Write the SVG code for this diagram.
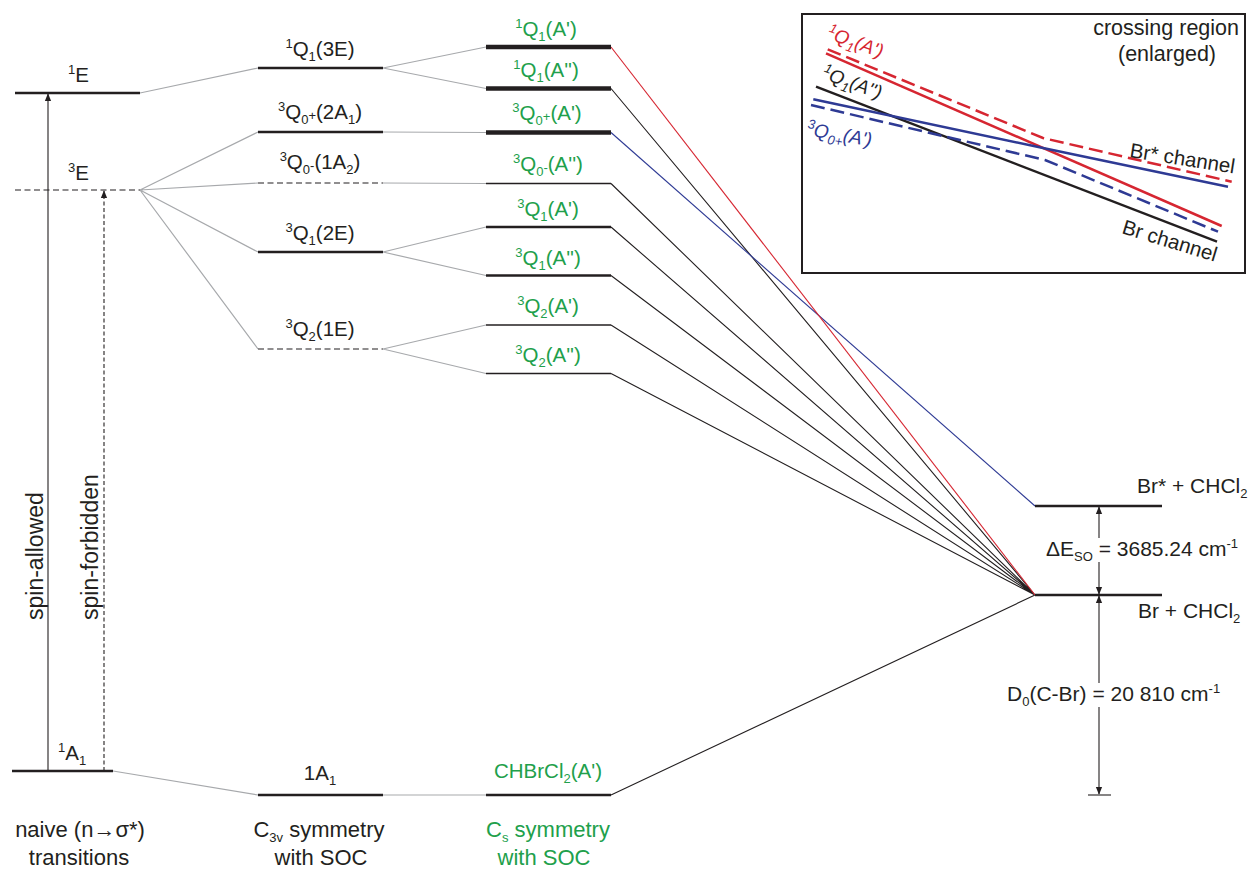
<svg xmlns="http://www.w3.org/2000/svg" width="1255" height="873" viewBox="0 0 1255 873">
<defs>
<style>
text{font-family:"Liberation Sans",Arial,sans-serif;font-size:20.5px;fill:#231f20}
.g{fill:#21a04b}
.s{font-size:13px}
.b22{font-size:22px}
.b21{font-size:21px}
.sp{font-size:23px}
.in{font-size:21.5px}
.it{font-style:italic;font-size:19px}
.lv{stroke:#231f20;stroke-width:2.5;fill:none}
.lvt{stroke:#231f20;stroke-width:4.5;fill:none}
.lvn{stroke:#231f20;stroke-width:1.3;fill:none}
.dash{stroke:#231f20;stroke-width:1.2;stroke-dasharray:6 3.5;fill:none}
.gr{stroke:#a7a9ac;stroke-width:1.2;fill:none}
.bk{stroke:#231f20;stroke-width:1.1;fill:none}
.rd{stroke:#d62631;stroke-width:1.1;fill:none}
.bl{stroke:#2e3a94;stroke-width:1.1;fill:none}
.ar{stroke:#231f20;stroke-width:1.1;fill:none}
</style>
<marker id="ah" viewBox="0 0 10 10" refX="9" refY="5" markerWidth="8" markerHeight="8" markerUnits="userSpaceOnUse" orient="auto">
<path d="M0,1 L10,5 L0,9 Z" fill="#231f20"/>
</marker>
</defs>
<rect width="1255" height="873" fill="#fff"/>

<g id="connectors">
<path class="gr" d="M140,93 L258,68"/>
<path class="gr" d="M140,190 L258,132 M140,190 L258,183 M140,190 L258,252 M140,190 L258,349"/>
<path class="gr" d="M113,771 L258,795"/>
<path class="gr" d="M383,68 L486,47 M383,68 L486,88.5"/>
<path class="gr" d="M383,132 L486,132.5"/>
<path class="gr" d="M383,183 L486,183.5"/>
<path class="gr" d="M383,252 L486,227 M383,252 L486,275.5"/>
<path class="gr" d="M383,349 L486,325 M383,349 L486,373.5"/>
<path class="gr" d="M383,795 L486,795"/>
<path class="bk" d="M611,88.5 L1035,595 M611,183.5 L1035,595 M611,227 L1035,595 M611,275.5 L1035,595 M611,325 L1035,595 M611,373.5 L1035,595 M611,795 L1035,595"/>
<path class="bl" d="M611,132.5 L1035,506"/>
<path class="rd" d="M611,47 L1035,595"/>
<path class="ar" d="M48,771 L48,94" marker-end="url(#ah)"/>
<path class="ar" d="M104,771 L104,191" stroke-dasharray="4 2.5" marker-end="url(#ah)"/>
<path class="ar" d="M1099,538 L1099,507" marker-end="url(#ah)"/>
<path class="ar" d="M1099,562 L1099,594" marker-end="url(#ah)"/>
<path class="ar" d="M1099,683 L1099,596" marker-end="url(#ah)"/>
<path class="ar" d="M1099,707 L1099,794" marker-end="url(#ah)"/>
<path class="ar" d="M1088,795 L1111,795"/>
</g>

<g id="naive-1E"><path class="lv" d="M15,93 H140"/><text x="68" y="82"><tspan class="s" dy="-8">1</tspan><tspan dy="8">E</tspan></text></g>
<g id="naive-3E"><path class="dash" d="M15,190 H140"/><text x="68" y="180"><tspan class="s" dy="-8">3</tspan><tspan dy="8">E</tspan></text></g>
<g id="naive-1A1"><path class="lv" d="M12,771 H113"/><text x="58" y="760"><tspan class="s" dy="-8">1</tspan><tspan dy="8">A</tspan><tspan class="s" dy="5">1</tspan></text></g>

<g id="c3v-1Q1-3E"><path class="lv" d="M258,68 H383"/><text x="320" y="56" text-anchor="middle"><tspan class="s" dy="-8">1</tspan><tspan dy="8">Q</tspan><tspan class="s" dy="5">1</tspan><tspan dy="-5">(3E)</tspan></text></g>
<g id="c3v-3Q0p-2A1"><path class="lv" d="M258,132 H383"/><text x="320" y="119" text-anchor="middle"><tspan class="s" dy="-8">3</tspan><tspan dy="8">Q</tspan><tspan class="s" dy="5">0</tspan><tspan class="s" dy="-4">+</tspan><tspan dy="-1">(2A</tspan><tspan class="s" dy="5">1</tspan><tspan dy="-5">)</tspan></text></g>
<g id="c3v-3Q0m-1A2"><path class="dash" d="M258,183 H383"/><text x="320" y="169" text-anchor="middle"><tspan class="s" dy="-8">3</tspan><tspan dy="8">Q</tspan><tspan class="s" dy="5">0</tspan><tspan class="s" dy="-4">-</tspan><tspan dy="-1">(1A</tspan><tspan class="s" dy="5">2</tspan><tspan dy="-5">)</tspan></text></g>
<g id="c3v-3Q1-2E"><path class="lv" d="M258,252 H383"/><text x="320" y="240" text-anchor="middle"><tspan class="s" dy="-8">3</tspan><tspan dy="8">Q</tspan><tspan class="s" dy="5">1</tspan><tspan dy="-5">(2E)</tspan></text></g>
<g id="c3v-3Q2-1E"><path class="dash" d="M258,349 H383"/><text x="320" y="336" text-anchor="middle"><tspan class="s" dy="-8">3</tspan><tspan dy="8">Q</tspan><tspan class="s" dy="5">2</tspan><tspan dy="-5">(1E)</tspan></text></g>
<g id="c3v-1A1"><path class="lv" d="M258,795 H383"/><text x="320" y="780" text-anchor="middle">1A<tspan class="s" dy="5">1</tspan></text></g>

<g id="cs-1Q1-Ap"><path class="lvt" d="M486,47 H611"/><text class="g" x="546" y="36" text-anchor="middle"><tspan class="s" dy="-8">1</tspan><tspan dy="8">Q</tspan><tspan class="s" dy="5">1</tspan><tspan dy="-5">(A')</tspan></text></g>
<g id="cs-1Q1-App"><path class="lvt" d="M486,88.5 H611"/><text class="g" x="546" y="77" text-anchor="middle"><tspan class="s" dy="-8">1</tspan><tspan dy="8">Q</tspan><tspan class="s" dy="5">1</tspan><tspan dy="-5">(A'')</tspan></text></g>
<g id="cs-3Q0p-Ap"><path class="lvt" d="M486,132.5 H611"/><text class="g" x="547" y="120" text-anchor="middle"><tspan class="s" dy="-8">3</tspan><tspan dy="8">Q</tspan><tspan class="s" dy="5">0</tspan><tspan class="s" dy="-4">+</tspan><tspan dy="-1">(A')</tspan></text></g>
<g id="cs-3Q0m-App"><path class="lvn" d="M486,183.5 H611"/><text class="g" x="548" y="171" text-anchor="middle"><tspan class="s" dy="-8">3</tspan><tspan dy="8">Q</tspan><tspan class="s" dy="5">0</tspan><tspan class="s" dy="-4">-</tspan><tspan dy="-1">(A'')</tspan></text></g>
<g id="cs-3Q1-Ap"><path class="lv" d="M486,227 H611" stroke-width="2"/><text class="g" x="548" y="216" text-anchor="middle"><tspan class="s" dy="-8">3</tspan><tspan dy="8">Q</tspan><tspan class="s" dy="5">1</tspan><tspan dy="-5">(A')</tspan></text></g>
<g id="cs-3Q1-App"><path class="lv" d="M486,275.5 H611" stroke-width="2"/><text class="g" x="548" y="265" text-anchor="middle"><tspan class="s" dy="-8">3</tspan><tspan dy="8">Q</tspan><tspan class="s" dy="5">1</tspan><tspan dy="-5">(A'')</tspan></text></g>
<g id="cs-3Q2-Ap"><path class="lvn" d="M486,325 H611"/><text class="g" x="548" y="313" text-anchor="middle"><tspan class="s" dy="-8">3</tspan><tspan dy="8">Q</tspan><tspan class="s" dy="5">2</tspan><tspan dy="-5">(A')</tspan></text></g>
<g id="cs-3Q2-App"><path class="lvn" d="M486,373.5 H611"/><text class="g" x="548" y="362" text-anchor="middle"><tspan class="s" dy="-8">3</tspan><tspan dy="8">Q</tspan><tspan class="s" dy="5">2</tspan><tspan dy="-5">(A'')</tspan></text></g>
<g id="cs-ground"><path class="lv" d="M486,795 H611"/><text class="g" x="548" y="778" text-anchor="middle">CHBrCl<tspan class="s" dy="5">2</tspan><tspan dy="-5">(A')</tspan></text></g>

<g id="asym-BrStar"><path class="lv" d="M1035,506 H1162"/><text class="b21" x="1137" y="493">Br* + CHCl<tspan class="s" dy="5">2</tspan></text></g>
<g id="asym-Br"><path class="lv" d="M1035,595 H1162"/><text class="b21" x="1138" y="618">Br + CHCl<tspan class="s" dy="5">2</tspan></text></g>
<g id="energy-labels">
<text class="b21" x="1046" y="556">ΔE<tspan class="s" dy="5">SO</tspan><tspan dy="-5"> = 3685.24 cm</tspan><tspan class="s" dy="-8">-1</tspan></text>
<text class="b21" x="1007" y="701">D<tspan class="s" dy="5">0</tspan><tspan dy="-5">(C-Br) = 20 810 cm</tspan><tspan class="s" dy="-8">-1</tspan></text>
</g>

<g id="transition-labels">
<text class="sp" transform="translate(43,620) rotate(-90)">spin-allowed</text>
<text class="sp" transform="translate(98,620) rotate(-90)">spin-forbidden</text>
</g>

<g id="column-labels">
<text class="b22" x="80" y="837" text-anchor="middle">naive (n→σ*)</text>
<text class="b22" x="79" y="865" text-anchor="middle">transitions</text>
<text class="b22" x="319" y="837" text-anchor="middle">C<tspan class="s" dy="5">3v</tspan><tspan dy="-5"> symmetry</tspan></text>
<text class="b22" x="321" y="865" text-anchor="middle">with SOC</text>
<text class="b22 g" x="548" y="837" text-anchor="middle">C<tspan class="s" dy="5">s</tspan><tspan dy="-5"> symmetry</tspan></text>
<text class="b22 g" x="544" y="865" text-anchor="middle">with SOC</text>
</g>

<g id="inset">
<rect x="802" y="14" width="443" height="259" fill="none" stroke="#231f20" stroke-width="2"/>
<text class="in" x="1239" y="35" text-anchor="end">crossing region</text>
<text class="in" x="1167" y="61" text-anchor="middle">(enlarged)</text>
<path d="M827.7,49.3 L1043,138 L1231.7,181.7" fill="none" stroke="#d62631" stroke-width="2.5" stroke-dasharray="14 6"/>
<path d="M826,53.3 L1221.7,226" fill="none" stroke="#d62631" stroke-width="2.5"/>
<path d="M816,86.7 L1217,241.7" fill="none" stroke="#231f20" stroke-width="2.5"/>
<path d="M813.3,99.3 L1043,148 L1228,186.7" fill="none" stroke="#2e3a94" stroke-width="2.5"/>
<path d="M811,105 L1045,160 L1218,231.7" fill="none" stroke="#2e3a94" stroke-width="2.5" stroke-dasharray="14 6"/>
<text class="it" transform="translate(826,38) rotate(20)" style="fill:#d62631"><tspan class="s" dy="-7">1</tspan><tspan dy="7">Q</tspan><tspan class="s" dy="5">1</tspan><tspan dy="-5">(A')</tspan></text>
<text class="it" transform="translate(821,78) rotate(20)"><tspan class="s" dy="-7">1</tspan><tspan dy="7">Q</tspan><tspan class="s" dy="5">1</tspan><tspan dy="-5">(A'')</tspan></text>
<text class="it" transform="translate(806,135) rotate(10)" style="fill:#2e3a94"><tspan class="s" dy="-7">3</tspan><tspan dy="7">Q</tspan><tspan class="s" dy="5">0+</tspan><tspan dy="-5">(A')</tspan></text>
<text transform="translate(1129,157) rotate(9)">Br* channel</text>
<text transform="translate(1121,233) rotate(17)">Br channel</text>
</g>
</svg>
